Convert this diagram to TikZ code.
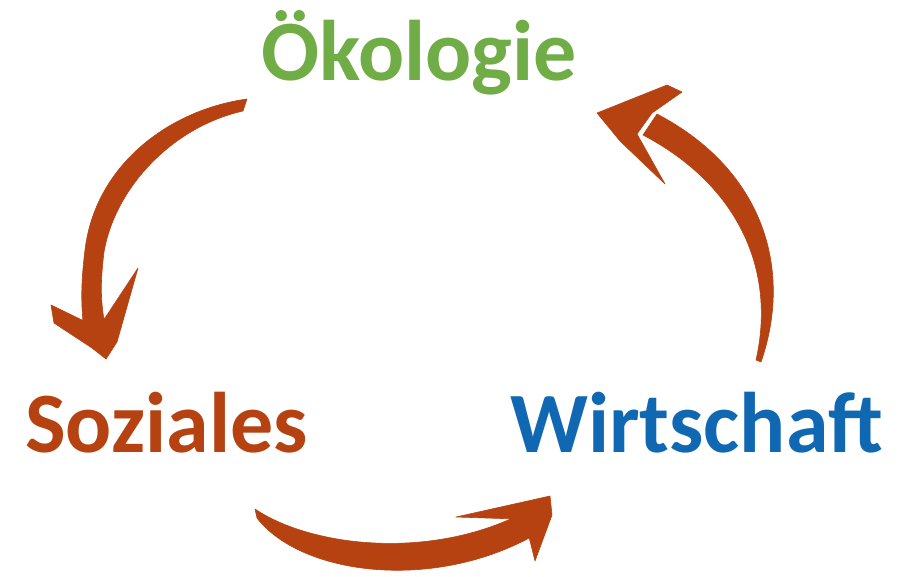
\documentclass[tikz,border=0pt]{standalone}
\usepackage{fontspec}
\setmainfont{Carlito}
\definecolor{oekogreen}{RGB}{112,173,71}
\definecolor{brushred}{RGB}{182,66,17}
\definecolor{wblue}{RGB}{16,104,178}
\begin{document}
\begin{tikzpicture}[x=1pt,y=-1pt,
  label/.style={inner sep=0pt,anchor=base west,font=\fontsize{86}{90}\selectfont\bfseries},
  brush/.style={fill=brushred,draw=brushred,line width=0.6pt,line join=round}]
\useasboundingbox (0,0) rectangle (912,576);
\node[label,text=oekogreen] (oek) at (261,80) {Ökologie};
\node[label,text=brushred] (soz) at (25,452) {Soziales};
\node[label,text=wblue] (wir) at (510,452) {Wirtschaft};
% arrow 1: Oekologie -> Soziales
\fill[brush] (247,99) .. controls (168,110) and (95,166) .. (85,250)
  .. controls (80,290) and (82,308) .. (83,322)
  -- (104,320) .. controls (101,300) and (100,285) .. (104,252)
  .. controls (115,188) and (172,127) .. (243,111) -- cycle;
\fill[brush] (51,305) -- (82,320) -- (105,318) -- (138,268) -- (117,342)
  -- (106,359) -- (92,348) -- (54,323) -- cycle;
% arrow 2: Wirtschaft -> Oekologie
\fill[brush] (761,362) .. controls (793,270) and (764,170) .. (657,114)
  -- (643,135) .. controls (740,186) and (776,272) .. (756,360) -- cycle;
\fill[brush] (597,113) -- (667,85) -- (682,92) -- (652,113) -- (637,134)
  -- (665,184) -- (620,141) -- cycle;
% arrow 3: Soziales -> Wirtschaft
\fill[brush] (255,509) .. controls (310,546) and (425,560) .. (517,516)
  -- (531,537) .. controls (430,592) and (300,574) .. (257,518) -- cycle;
\fill[brush] (456,517) -- (550,496) -- (552,515) -- (535,561) -- (528,533)
  -- (517,519) -- cycle;
\end{tikzpicture}
\end{document}
